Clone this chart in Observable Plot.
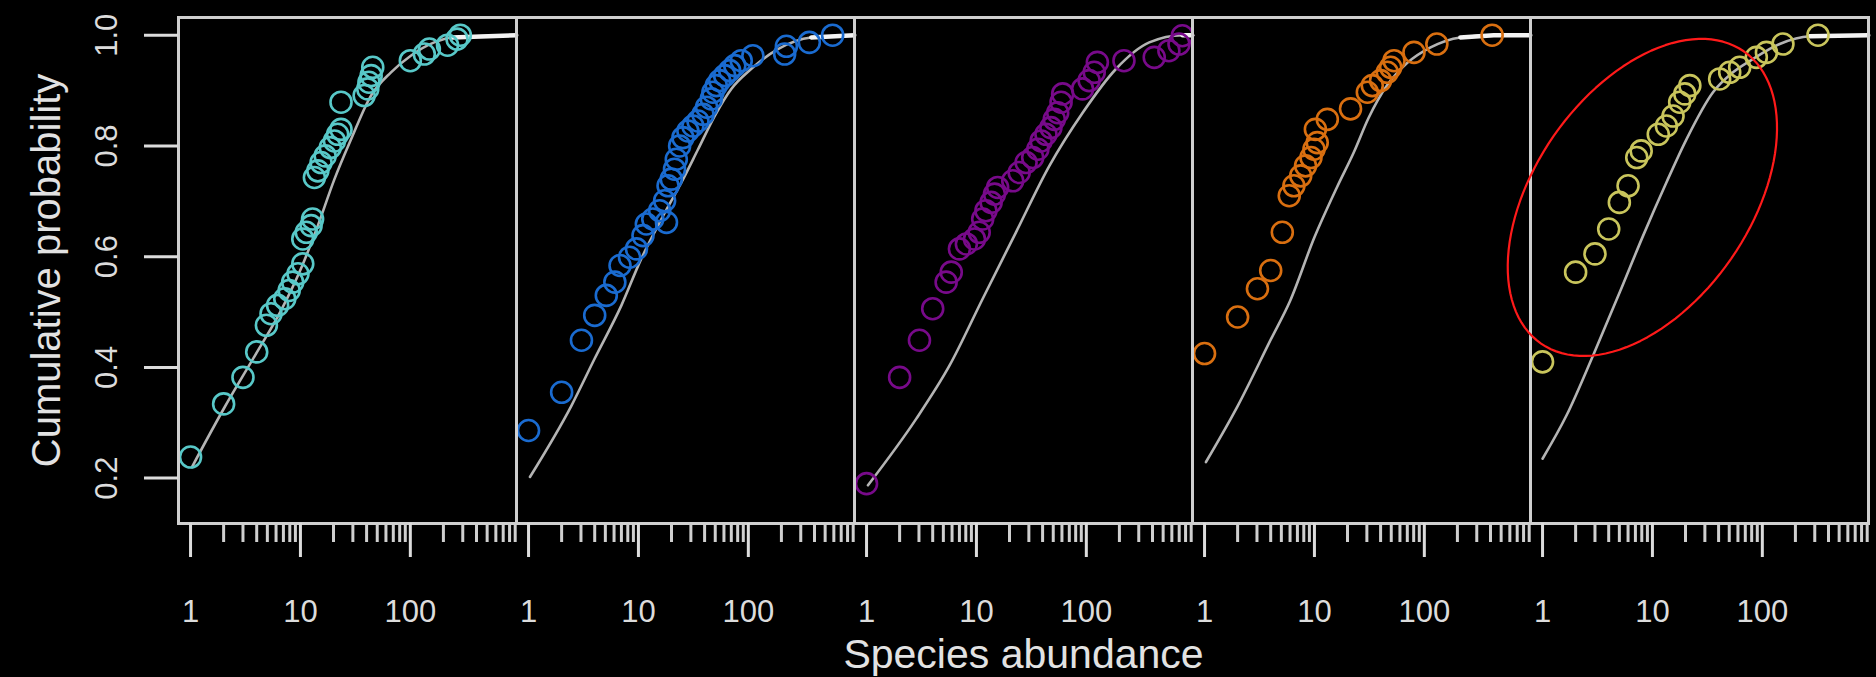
<!DOCTYPE html>
<html>
<head>
<meta charset="utf-8">
<script src="https://cdn.jsdelivr.net/npm/d3@7"></script>
<script src="https://cdn.jsdelivr.net/npm/@observablehq/plot@0.6"></script>
<style>
  html, body { margin: 0; padding: 0; background: #000; }
  #chart { width: 1876px; height: 677px; overflow: hidden; }
</style>
</head>
<body>
<div id="chart"></div>
<script>
// ---- panels ----
const panels = ["P1", "P2", "P3", "P4", "P5"];
const panelColors = ["#58c8c8", "#1a6bd0", "#780a8a", "#d96f10", "#c9c55c"];

// ---- observed species (abundance, cumulative probability) ----
const abund1 = [1, 2, 3, 4, 4.9, 5.4, 6.2, 7.2, 7.9, 8.5, 9.5, 10.5, 10.5, 11.3, 12.5, 12.9, 13.4, 14.4, 15.4, 16.8, 18.7, 20.4, 21.8, 23.4, 23.4, 38, 41, 42, 44, 45.5, 100, 134, 149, 218, 266, 285];
const prob1  = [0.238, 0.334, 0.382, 0.428, 0.476, 0.497, 0.512, 0.524, 0.539, 0.554, 0.569, 0.587, 0.632, 0.644, 0.656, 0.668, 0.743, 0.755, 0.770, 0.782, 0.797, 0.809, 0.821, 0.830, 0.879, 0.891, 0.903, 0.915, 0.927, 0.942, 0.954, 0.966, 0.975, 0.982, 0.993, 1.0];

const abund2 = [1, 2, 3.03, 4, 5.1, 6.1, 6.8, 8.3, 9.6, 11, 11.8, 13.5, 15.6, 18, 17.3, 18.6, 19.9, 21.3, 22.1, 23.7, 25.4, 28.2, 31.3, 34.8, 38.7, 41.7, 46, 47.6, 51.1, 54.9, 60.9, 67.7, 75.3, 86.2, 110, 214, 222, 359, 585];
const prob2  = [0.286, 0.355, 0.449, 0.494, 0.530, 0.554, 0.584, 0.599, 0.614, 0.638, 0.659, 0.668, 0.683, 0.662, 0.701, 0.728, 0.740, 0.758, 0.776, 0.800, 0.815, 0.827, 0.836, 0.845, 0.857, 0.870, 0.885, 0.897, 0.909, 0.918, 0.927, 0.936, 0.945, 0.954, 0.963, 0.966, 0.980, 0.987, 1.0];

const abund3 = [1, 2, 3.03, 4, 5.3, 5.9, 7.0, 8.1, 9.6, 10.6, 11.4, 12.2, 13.6, 14.6, 15.6, 21.4, 24.5, 28.3, 32.5, 36.2, 38.8, 42.9, 47.6, 51.1, 54.9, 58.9, 60.9, 92.4, 106, 118, 126, 220, 415, 564, 697, 747];
const prob3  = [0.190, 0.382, 0.449, 0.506, 0.554, 0.572, 0.614, 0.623, 0.632, 0.644, 0.668, 0.683, 0.698, 0.713, 0.725, 0.737, 0.752, 0.770, 0.779, 0.794, 0.809, 0.821, 0.833, 0.848, 0.860, 0.879, 0.894, 0.903, 0.918, 0.933, 0.951, 0.954, 0.960, 0.972, 0.984, 0.999];

const abund4 = [1, 2, 3.03, 4, 5.1, 5.9, 6.5, 7.5, 8.3, 9.3, 9.9, 10.6, 10.2, 13.1, 21.3, 30.3, 33.6, 40, 46, 49.4, 53, 80.5, 130, 414];
const prob4  = [0.425, 0.491, 0.542, 0.575, 0.644, 0.710, 0.728, 0.746, 0.764, 0.779, 0.794, 0.806, 0.830, 0.848, 0.867, 0.897, 0.909, 0.918, 0.933, 0.942, 0.954, 0.969, 0.984, 1.0];

const abund5 = [1, 2, 3, 4, 5, 6, 7.2, 7.9, 11.3, 13.4, 15.4, 17.7, 19.7, 21.9, 40.9, 50.5, 62.2, 88.2, 109, 154, 321];
const prob5  = [0.410, 0.572, 0.605, 0.650, 0.698, 0.728, 0.779, 0.791, 0.821, 0.836, 0.854, 0.879, 0.894, 0.909, 0.921, 0.933, 0.942, 0.960, 0.969, 0.984, 1.0];

// ---- fitted curves ----
const fit1Abund = [1.03, 2.04, 3.95, 6.67, 10.1, 14.4, 20.4, 28.9, 43.9, 66.7, 101, 165, 240, 920];
const fit1Prob  = [0.220, 0.328, 0.425, 0.503, 0.578, 0.656, 0.740, 0.812, 0.891, 0.933, 0.963, 0.987, 0.996, 1.0];

const fit2Abund = [1.03, 2.46, 4.0, 7.0, 10.6, 16.2, 24.6, 34.9, 49.4, 70, 106, 186, 374, 920];
const fit2Prob  = [0.202, 0.331, 0.416, 0.512, 0.596, 0.668, 0.734, 0.794, 0.854, 0.903, 0.939, 0.975, 0.996, 1.0];

const fit3Abund = [1.03, 2.83, 5.68, 11.4, 22.9, 46.1, 92.6, 186, 374, 751, 920];
const fit3Prob  = [0.187, 0.307, 0.403, 0.524, 0.644, 0.764, 0.860, 0.939, 0.987, 1.0, 1.0];

const fit4Abund = [1.03, 2, 4, 6, 10, 16, 23, 31, 46, 70, 114, 213, 428, 920];
const fit4Prob  = [0.229, 0.330, 0.450, 0.520, 0.635, 0.725, 0.790, 0.850, 0.910, 0.950, 0.978, 0.996, 1.0, 1.0];

const fit5Abund = [1, 1.65, 2.89, 5.05, 8.23, 13.4, 20.4, 35.6, 54.1, 82.2, 144, 269, 920];
const fit5Prob  = [0.235, 0.313, 0.422, 0.536, 0.638, 0.734, 0.812, 0.897, 0.933, 0.957, 0.984, 0.998, 1.0];

// ---- axes ----
const xMajorTicks = [1, 10, 100];
const xMinorTicks = [2, 3, 4, 5, 6, 7, 8, 9, 20, 30, 40, 50, 60, 70, 80, 90, 200, 300, 400, 500, 600, 700, 800, 900];
const yTicks = [0.2, 0.4, 0.6, 0.8, 1.0];

// ---- red annotation ellipse (panel 5), in decades of abundance / probability ----
const ellipsePanel = "P5";
const ellipseCenter = [8.1, 0.707];
const ellipseMajor = [0.922, 0.264];
const ellipseMinor = [0.807, -0.111];

// ---- build tables ----
const obsSets = [[abund1, prob1], [abund2, prob2], [abund3, prob3], [abund4, prob4], [abund5, prob5]];
const fitSets = [[fit1Abund, fit1Prob], [fit2Abund, fit2Prob], [fit3Abund, fit3Prob], [fit4Abund, fit4Prob], [fit5Abund, fit5Prob]];

const points = obsSets.flatMap(([a, p], i) => a.map((v, j) => ({panel: panels[i], a: v, p: p[j], color: panelColors[i]})));
const fits = fitSets.flatMap(([a, p], i) => a.map((v, j) => ({panel: panels[i], a: v, p: p[j]})));
const fitTops = fits.filter(d => d.p >= 0.99);

const ellipse = d3.range(0, 121).map(k => {
  const t = 2 * Math.PI * k / 120;
  const la = Math.log10(ellipseCenter[0]) + ellipseMajor[0] * Math.cos(t) + ellipseMinor[0] * Math.sin(t);
  const p = ellipseCenter[1] + ellipseMajor[1] * Math.cos(t) + ellipseMinor[1] * Math.sin(t);
  return {panel: ellipsePanel, a: Math.pow(10, la), p};
});

const fontFamily = "'Liberation Sans', Arial, Helvetica, sans-serif";

const chart = Plot.plot({
  width: 1876,
  height: 677,
  marginLeft: 177,
  marginRight: 8,
  marginTop: 17,
  marginBottom: 154,
  style: {background: "#000", color: "#dcdcdc", fontFamily, overflow: "visible"},
  fx: {domain: panels, padding: 0, axis: null, label: null},
  x: {type: "log", domain: [0.777, 925], label: null},
  y: {domain: [0.118, 1.032], label: null},
  color: {type: "identity"},
  marks: [
    Plot.line(fits, {x: "a", y: "p", fx: "panel", stroke: "#b4b4b4", strokeWidth: 2.6, curve: "monotone-x"}),
    Plot.line(fitTops, {x: "a", y: "p", fx: "panel", stroke: "#f4f4f4", strokeWidth: 4.5}),
    Plot.dot(points, {x: "a", y: "p", fx: "panel", stroke: "color", r: 10.5, strokeWidth: 2.6, fill: "none"}),
    Plot.frame({stroke: "#cfcfcf", strokeWidth: 3}),
    Plot.axisX({ticks: xMajorTicks, tickSize: 34, tickPadding: 42, tickFormat: d => String(d), fontSize: 31, color: "#dcdcdc", strokeWidth: 3, label: null}),
    Plot.axisX({ticks: xMinorTicks, tickSize: 19, tickFormat: () => "", color: "#cfcfcf", strokeWidth: 3, label: null}),
    Plot.axisY({ticks: yTicks, tickSize: 34, tickPadding: 28, tickRotate: -90, tickFormat: d => d.toFixed(1), fontSize: 31, color: "#dcdcdc", strokeWidth: 3, label: null}),
    Plot.axisX({ticks: [], label: "Species abundance", labelAnchor: "center", labelOffset: 144, labelArrow: "none", fontSize: 41, color: "#e2e2e2"}),
    Plot.axisY({ticks: [], label: "Cumulative probability", labelAnchor: "center", labelOffset: 147, labelArrow: "none", fontSize: 40, color: "#e2e2e2"}),
    Plot.line(ellipse, {x: "a", y: "p", fx: "panel", stroke: "#ff1a1a", strokeWidth: 2.2})
  ]
});

document.getElementById("chart").appendChild(chart);
</script>
</body>
</html>
